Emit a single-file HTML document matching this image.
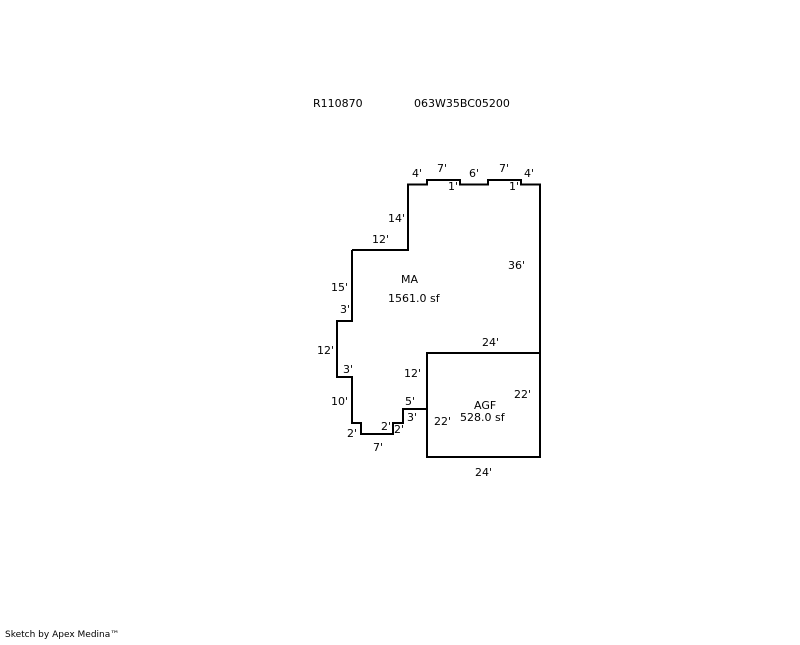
<!DOCTYPE html>
<html><head><style>
body{margin:0;background:#fff;}
svg text{font-family:"DejaVu Sans","Liberation Sans",sans-serif;font-size:11px;fill:#000;}
</style></head><body>
<svg width="800" height="640" viewBox="0 0 800 640" xmlns="http://www.w3.org/2000/svg">
<g fill="none" stroke="#000" stroke-width="2">
<polyline points="352,250 408,250 408,184.5 427,184.5 427,180 460,180 460,184.5 488,184.5 488,180 521,180 521,184.5 540,184.5 540,353"/>
<polyline points="352,250 352,321 337,321 337,377 352,377 352,423 361,423 361,434 393,434 393,423 403,423 403,409 427,409"/>
<rect x="427" y="353" width="113" height="104"/>
</g>
<text x="313" y="107">R110870</text>
<text x="414" y="107">063W35BC05200</text>
<text x="412" y="177">4'</text>
<text x="437" y="172">7'</text>
<text x="448" y="190">1'</text>
<text x="469" y="177">6'</text>
<text x="499" y="172">7'</text>
<text x="509" y="190">1'</text>
<text x="524" y="177">4'</text>
<text x="388" y="222">14'</text>
<text x="372" y="243">12'</text>
<text x="508" y="269">36'</text>
<text x="401" y="283">MA</text>
<text x="388" y="302">1561.0 sf</text>
<text x="331" y="291">15'</text>
<text x="340" y="313">3'</text>
<text x="317" y="354">12'</text>
<text x="343" y="373">3'</text>
<text x="482" y="346">24'</text>
<text x="404" y="377">12'</text>
<text x="331" y="405">10'</text>
<text x="405" y="405">5'</text>
<text x="514" y="398">22'</text>
<text x="474" y="409">AGF</text>
<text x="460" y="421">528.0 sf</text>
<text x="407" y="421">3'</text>
<text x="434" y="425">22'</text>
<text x="381" y="430">2'</text>
<text x="347" y="437">2'</text>
<text x="394" y="433">2'</text>
<text x="373" y="451">7'</text>
<text x="475" y="476">24'</text>
<text x="5" y="637" style="font-size:9px">Sketch by Apex Medina™</text>
</svg>
</body></html>
